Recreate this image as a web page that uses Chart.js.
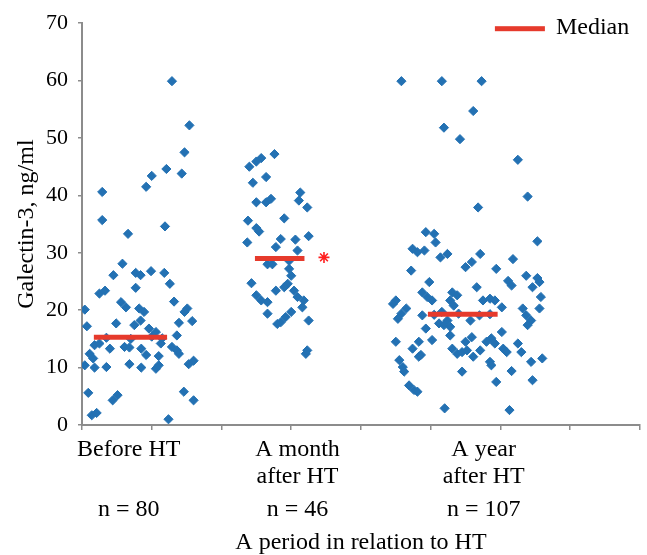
<!DOCTYPE html>
<html><head><meta charset="utf-8">
<title>Galectin-3 by period</title>
<script src="https://cdn.jsdelivr.net/npm/chart.js@4.4.7/dist/chart.umd.min.js"></script>
<style>html,body{margin:0;padding:0;background:#fff}canvas{display:block}</style>
</head><body>
<canvas id="chart" width="647" height="555"></canvas>
<script>
'use strict';

// group labels + sample sizes
var GROUPS = [['Before HT'], ['A month', 'after HT'], ['A year', 'after HT']];
var COUNTS = [80, 46, 107];
var LABEL_AT = [0.67, 3.09, 5.76];   // x (axis units) where each group caption sits
var Y_TICKS = [0, 70, 10];           // min, max, step
var Y_TITLE = 'Galectin-3, ng/ml';
var X_TITLE = 'A period in relation to HT';

// medians (value, from x, to x)
var MEDIAN = [15.3, 29.0, 19.3];
var MEDIAN_FROM = [0.17, 2.48, 4.96];
var MEDIAN_TO = [1.22, 3.19, 5.96];

// significance mark next to month median
var STAR_X = [3.47];
var STAR_Y = [29.2];

// Before HT — jittered x, value
var BEFORE_X = [1.29,1.54,1.47,1.43,1.21,1.00,0.92,0.29,0.29,1.19,0.66,
  0.58,0.45,0.77,0.84,0.99,1.18,1.26,0.77,0.25,0.33,0.56,0.63,1.32,0.82,0.89,0.04,1.51,1.47,1.58,0.49,
  0.07,0.75,0.84,0.96,1.06,1.39,1.36,0.18,0.25,0.40,0.61,0.68,0.85,1.13,1.29,1.36,0.11,0.16,0.92,1.10,
  1.39,0.04,0.18,0.35,0.68,0.85,1.06,1.10,1.53,1.60,0.09,0.44,0.51,1.46,1.60,0.14,0.21,1.24,
  0.35,0.70,1.00,1.15];
var BEFORE_Y = [59.9,52.2,47.5,43.8,44.6,43.4,41.5,40.6,35.7,34.6,33.3,
  28.1,26.1,26.5,26.1,26.8,26.5,24.6,23.9,22.9,23.4,21.4,20.5,21.5,20.3,19.7,20.1,20.3,19.7,18.1,17.7,
  17.2,17.4,18.2,16.8,16.2,17.8,15.6,13.9,14.2,13.3,13.6,13.5,13.3,14.2,13.6,13.0,12.4,11.6,12.2,12.0,
  12.4,10.4,10.0,10.1,10.6,10.0,9.8,10.4,10.6,11.2,5.6,4.3,5.2,5.8,4.3,1.7,2.1,1.0,
  15.2,15.0,15.4,15.1];

// A month after HT
var MONTH_X = [2.76,2.57,2.50,2.40,2.64,2.45,3.13,2.50,2.64,2.71,3.11,3.23,2.90,2.38,2.50,2.54,
  2.37,2.85,2.78,3.06,3.25,3.09,2.66,2.73,2.97,2.97,3.00,2.43,2.95,2.90,2.78,3.04,3.09,3.18,2.50,
  2.57,2.66,3.16,2.66,3.00,2.92,2.85,2.80,3.25,3.21,3.23];
var MONTH_Y = [47.2,46.5,45.9,45.0,43.2,42.2,40.5,38.8,38.8,39.4,39.1,37.9,36.0,35.6,34.3,33.7,
  31.8,32.4,31.0,32.3,32.9,30.4,28.0,28.0,28.6,27.2,26.0,24.7,24.6,24.0,23.4,23.4,22.3,21.7,22.6,
  21.7,21.4,20.5,19.4,19.7,18.8,17.9,17.6,18.2,12.4,13.0];

// A year after HT
var YEAR_X = [4.58,5.16,5.73,5.61,5.19,5.42,6.25,6.39,5.68,4.93,5.05,5.07,6.53,
  4.74,4.81,4.91,5.14,5.24,5.71,6.18,5.50,5.59,4.72,5.94,6.37,6.53,6.56,4.98,6.11,6.16,5.66,6.46,
  4.88,4.95,5.02,5.31,5.38,5.75,5.85,5.92,4.50,4.46,6.02,6.58,6.32,6.37,6.44,5.28,5.33,4.65,4.58,
  4.53,4.88,5.57,6.56,5.16,5.24,4.93,5.12,
  5.19,5.28,6.39,4.83,5.02,4.50,5.28,5.50,5.59,6.02,5.87,5.80,5.92,6.04,6.09,6.25,6.30,4.74,4.83,
  4.86,5.31,5.38,5.45,5.52,5.61,5.71,4.55,4.60,4.62,5.85,5.87,6.44,6.60,5.45,6.16,5.94,6.46,4.69,
  4.76,4.81,5.20,6.13,
  5.05,5.40,5.70,5.85];
var YEAR_Y = [59.9,59.9,59.9,54.7,51.8,49.8,46.2,39.8,37.9,33.6,33.3,31.8,32.0,
  30.7,30.1,30.4,29.2,29.8,29.8,28.9,27.5,28.4,26.9,27.2,26.0,25.6,24.9,24.9,25.1,24.3,24.0,24.0,
  23.1,22.3,21.7,23.1,22.6,21.7,22.0,21.7,21.7,21.1,20.5,22.3,20.3,19.1,18.2,21.7,20.8,20.3,19.4,
  18.5,19.1,18.2,20.3,19.7,18.2,16.8,17.7,
  17.4,17.1,17.4,14.5,14.8,14.5,15.6,14.5,15.3,16.2,15.1,14.5,14.2,13.3,12.7,14.2,12.7,13.3,11.9,
  12.2,13.3,12.4,12.7,13.0,11.9,13.0,11.3,10.1,9.3,11.0,10.4,11.0,11.6,9.3,9.4,7.5,7.8,6.9,
  6.1,5.8,2.9,2.6,
  19.2,19.4,19.1,19.3];

var BLUE = '#2371b3';
var RED = '#e63a2c';
var GREY = '#8c8c8c';
var SERIF = '"Liberation Serif", "Times New Roman", serif';

function pts(xs, ys) {
  return xs.map(function(x, i) { return {x: x, y: ys[i]}; });
}

var datasets = [];
// medians first so they are painted over the dots
for (var i = 0; i < MEDIAN.length; i++) {
  datasets.push({
    type: 'line', label: 'Median',
    data: [{x: MEDIAN_FROM[i], y: MEDIAN[i]}, {x: MEDIAN_TO[i], y: MEDIAN[i]}],
    borderColor: RED, borderWidth: 5, pointRadius: 0, borderCapStyle: 'butt', fill: false
  });
}
datasets.push({
  label: '*', data: pts(STAR_X, STAR_Y), pointStyle: 'star',
  pointRadius: 5.5, borderColor: '#ff1f1f', borderWidth: 1.6, backgroundColor: '#ff1f1f'
});
[[BEFORE_X, BEFORE_Y], [MONTH_X, MONTH_Y], [YEAR_X, YEAR_Y]].forEach(function(g, k) {
  datasets.push({
    label: GROUPS[k].join(' '), data: pts(g[0], g[1]), pointStyle: 'rectRot',
    pointRadius: 4.6, backgroundColor: BLUE, borderColor: BLUE, borderWidth: 1
  });
});

// captions under the axis + the median key
var extras = {
  id: 'extras',
  afterDraw: function(chart) {
    var ctx = chart.ctx, xs = chart.scales.x, area = chart.chartArea;
    ctx.save();
    ctx.font = '24px ' + SERIF;
    ctx.fillStyle = '#000';
    ctx.textAlign = 'center';
    ctx.textBaseline = 'middle';
    GROUPS.forEach(function(lines, i) {
      var x = xs.getPixelForValue(LABEL_AT[i]);
      lines.forEach(function(t, j) { ctx.fillText(t, x, area.bottom + 25 + j * 27); });
      ctx.fillText('n = ' + COUNTS[i], x, area.bottom + 85);
    });
    // legend
    ctx.fillStyle = RED;
    ctx.fillRect(area.right - 145, area.top + 3, 50, 5);
    ctx.fillStyle = '#000';
    ctx.textAlign = 'left';
    ctx.fillText('Median', area.right - 84, area.top + 5);
    ctx.restore();
  }
};

new Chart(document.getElementById('chart'), {
  type: 'scatter',
  data: {datasets: datasets},
  plugins: [extras],
  options: {
    responsive: false,
    animation: false,
    layout: {padding: {top: 22, right: 0, bottom: 0, left: 0}},
    plugins: {legend: {display: false}, tooltip: {enabled: false}},
    scales: {
      x: {
        type: 'linear', min: 0, max: 8,
        ticks: {stepSize: 1, display: false},
        grid: {drawOnChartArea: false, drawTicks: true, tickLength: 5, color: GREY, lineWidth: 1.5},
        border: {color: GREY, width: 2},
        title: {display: true, text: X_TITLE, color: '#000', padding: 0,
          font: {family: SERIF, size: 24, lineHeight: 1}},
        afterFit: function(s) { s.height = 130; }
      },
      y: {
        min: Y_TICKS[0], max: Y_TICKS[1],
        ticks: {stepSize: Y_TICKS[2], color: '#000', padding: 10, font: {family: SERIF, size: 22}},
        grid: {drawOnChartArea: false, drawTicks: true, tickLength: 4, color: GREY, lineWidth: 1.5},
        border: {color: GREY, width: 2},
        title: {display: true, text: Y_TITLE, color: '#000', padding: {top: 12, bottom: 0},
          font: {family: SERIF, size: 24, lineHeight: 1.2}},
        afterFit: function(s) { s.width = 82; }
      }
    }
  }
});
</script></body></html>
